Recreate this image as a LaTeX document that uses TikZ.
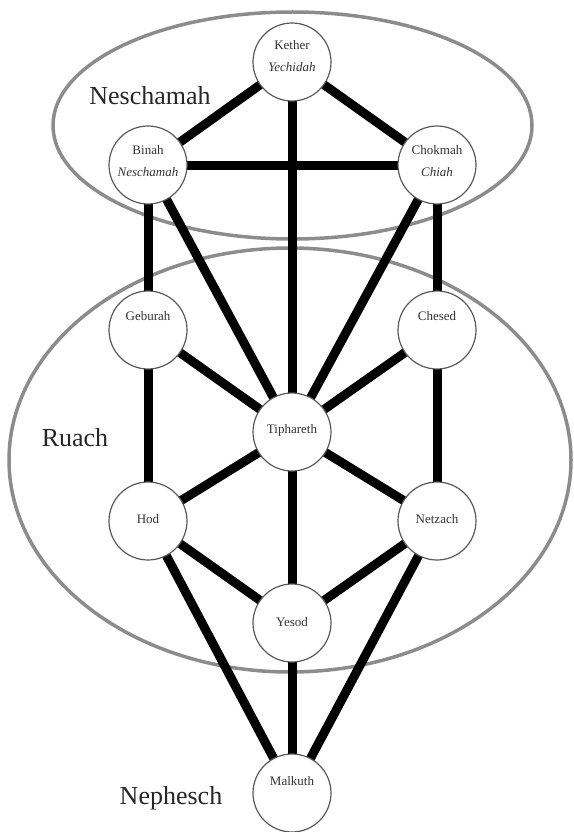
\documentclass[tikz,border=0pt]{standalone}
\usepackage{fontspec}
\setmainfont{Liberation Serif}
\begin{document}
\begin{tikzpicture}[x=1pt,y=-1pt,
  sefira/.style={circle, draw=black!65, line width=1.2pt, fill=white, minimum size=78pt, inner sep=0pt},
  stext/.style={align=center, font=\fontsize{13}{22}\selectfont, text=black!80, inner sep=0pt},
  conn/.style={line width=9pt, black},
  realm/.style={draw=black!45, line width=3.5pt},
  biglabel/.style={font=\fontsize{26}{30}\selectfont, text=black!85}]
\useasboundingbox (0,0) rectangle (573,832);
% realms
\draw[realm] (292.5,125.5) ellipse [x radius=239.5, y radius=113.5];
\draw[realm] (290,460) ellipse [x radius=281, y radius=212];
% sefirot positions
\coordinate (pK) at (292,62);
\coordinate (pB) at (148,165);
\coordinate (pC) at (437,165);
\coordinate (pG) at (148,330);
\coordinate (pH) at (437,330);
\coordinate (pT) at (292,432);
\coordinate (pO) at (148,521);
\coordinate (pN) at (437,521);
\coordinate (pY) at (292,623);
\coordinate (pM) at (292,793);
% connectors
\draw[conn] (pK) -- (pB);
\draw[conn] (pK) -- (pC);
\draw[conn] (pK) -- (pT);
\draw[conn] (pB) -- (pC);
\draw[conn] (pB) -- (pG);
\draw[conn] (pB) -- (pT);
\draw[conn] (pC) -- (pT);
\draw[conn] (pC) -- (pH);
\draw[conn] (pG) -- (pT);
\draw[conn] (pH) -- (pT);
\draw[conn] (pG) -- (pO);
\draw[conn] (pH) -- (pN);
\draw[conn] (pT) -- (pO);
\draw[conn] (pT) -- (pN);
\draw[conn] (pT) -- (pY);
\draw[conn] (pO) -- (pY);
\draw[conn] (pN) -- (pY);
\draw[conn] (pO) -- (pM);
\draw[conn] (pN) -- (pM);
\draw[conn] (pY) -- (pM);
% circles
\node[sefira] (kether) at (pK) {};
\node[sefira] (binah) at (pB) {};
\node[sefira] (chokmah) at (pC) {};
\node[sefira] (geburah) at (pG) {};
\node[sefira] (chesed) at (pH) {};
\node[sefira] (tiphareth) at (pT) {};
\node[sefira] (hod) at (pO) {};
\node[sefira] (netzach) at (pN) {};
\node[sefira] (yesod) at (pY) {};
\node[sefira] (malkuth) at (pM) {};
% texts
\node[stext] (kether-t) at ([yshift=6pt]kether.center) {Kether\\\textit{Yechidah}};
\node[stext] (binah-t) at ([yshift=4pt]binah.center) {Binah\\\textit{Neschamah}};
\node[stext] (chokmah-t) at ([yshift=4pt]chokmah.center) {Chokmah\\\textit{Chiah}};
\node[stext] (geburah-t) at ([yshift=14pt]geburah.center) {Geburah};
\node[stext] (chesed-t) at ([yshift=14pt]chesed.center) {Chesed};
\node[stext] (tiphareth-t) at ([yshift=2pt]tiphareth.center) {Tiphareth};
\node[stext] (hod-t) at ([yshift=2pt]hod.center) {Hod};
\node[stext] (netzach-t) at ([yshift=2pt]netzach.center) {Netzach};
\node[stext] (yesod-t) at ([yshift=1pt]yesod.center) {Yesod};
\node[stext] (malkuth-t) at ([yshift=12pt]malkuth.center) {Malkuth};
% realm labels
\node[biglabel] (neschamah) at (150,96) {Neschamah};
\node[biglabel] (ruach) at (75,438) {Ruach};
\node[biglabel] (nephesch) at (171,798) {Nephesch};
\end{tikzpicture}
\end{document}
